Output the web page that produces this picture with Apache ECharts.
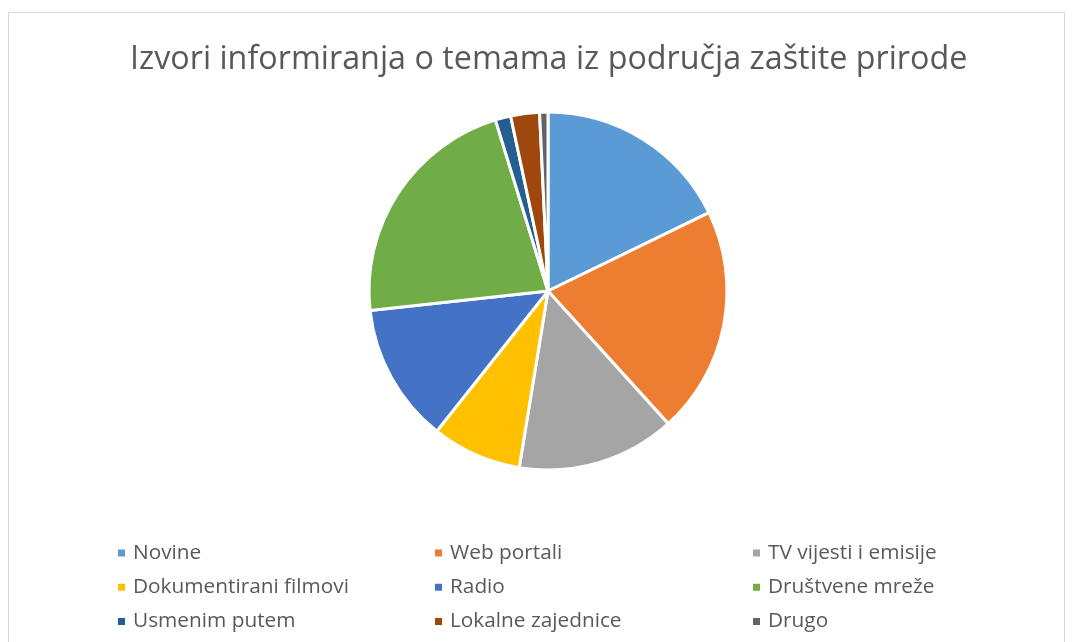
<!DOCTYPE html>
<html><head><meta charset="utf-8">
<script src="https://cdn.jsdelivr.net/npm/echarts@6/dist/echarts.min.js"></script>
<style>
html,body{margin:0;padding:0;background:#fff;}
#frame{position:absolute;left:8px;top:12px;width:1057px;height:640px;border:1px solid #d9d9d9;box-sizing:border-box;}
#c{position:absolute;left:0;top:0;width:1076px;height:642px;}
</style></head><body>
<div id="frame"></div>
<div id="c"></div>
<script>
const titleText = 'Izvori informiranja o temama iz područja zaštite prirode';
const categories = ['Novine','Web portali','TV vijesti i emisije','Dokumentirani filmovi','Radio','Društvene mreže','Usmenim putem','Lokalne zajednice','Drugo'];
const values = [17.8, 20.5, 14.3, 8.1, 12.6, 22.0, 1.4, 2.6, 0.75];
const colors = ['#5B9BD5','#ED7D31','#A5A5A5','#FFC000','#4472C4','#70AD47','#255E91','#9E480E','#636363'];
const legendCols = [
  ['Novine','Dokumentirani filmovi','Usmenim putem'],
  ['Web portali','Radio','Lokalne zajednice'],
  ['TV vijesti i emisije','Društvene mreže','Drugo']
];
const font = 'Open Sans';
const chart = echarts.init(document.getElementById('c'));
const legendLefts = [111, 428, 746];
chart.setOption({
  animation:false,
  color: colors,
  title:{text:titleText,left:125,top:39,textStyle:{fontFamily:font,fontSize:32.3,fontWeight:'normal',color:'#595959'}},
  legend: legendCols.map((col,i)=>({
    orient:'vertical', left:legendLefts[i], top:537.5, itemGap:13.2,
    itemWidth:9, itemHeight:9, icon:'rect', data:col, selectedMode:false,
    textStyle:{fontFamily:font,fontSize:20.8,lineHeight:21,color:'#595959',padding:[0,0,0,2]}
  })),
  series:[{
    type:'pie', center:[548,291], radius:179, startAngle:90, clockwise:true,
    label:{show:false}, labelLine:{show:false},
    itemStyle:{borderColor:'#fff',borderWidth:3},
    data: categories.map((n,i)=>({name:n,value:values[i]}))
  }]
});
</script></body></html>
